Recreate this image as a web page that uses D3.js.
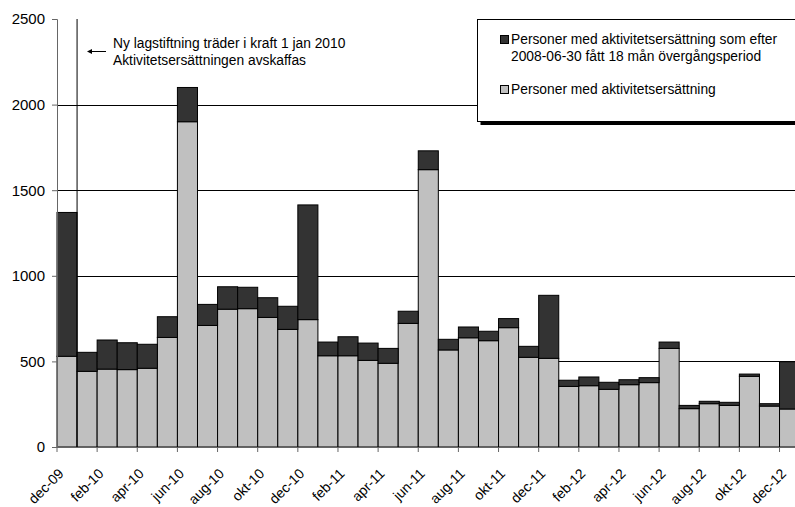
<!DOCTYPE html>
<html>
<head>
<meta charset="utf-8">
<script src="https://cdn.jsdelivr.net/npm/d3@7"></script>
<style>
  html, body { margin: 0; padding: 0; background: #fff; }
  svg { display: block; font-family: "Liberation Sans", Arial, sans-serif; }
</style>
</head>
<body>
<svg id="chart" width="795" height="507"></svg>
<script>
// Månader dec-09 – dec-12
const months = [
  "dec-09","jan-10","feb-10","mar-10","apr-10","maj-10","jun-10","jul-10","aug-10","sep-10","okt-10","nov-10",
  "dec-10","jan-11","feb-11","mar-11","apr-11","maj-11","jun-11","jul-11","aug-11","sep-11","okt-11","nov-11",
  "dec-11","jan-12","feb-12","mar-12","apr-12","maj-12","jun-12","jul-12","aug-12","sep-12","okt-12","nov-12","dec-12"
];

// Personer med aktivitetsersättning
const aktivitet = [
  530, 442, 455, 452, 460, 640, 1900, 710, 805, 808, 757, 687,
  744, 533, 533, 506, 489, 722, 1620, 567, 638, 621, 697, 524,
  518, 354, 358, 337, 364, 376, 576, 224, 253, 243, 413, 239, 222
];

// Personer som efter 2008-06-30 fått 18 mån övergångsperiod
const overgang = [
  840, 111, 170, 157, 140, 121, 200, 123, 131, 125, 115, 135,
  670, 80, 111, 101, 87, 71, 110, 62, 63, 55, 53, 64,
  368, 36, 51, 41, 29, 29, 37, 19, 14, 18, 13, 14, 276
];

const yTicks = [0, 500, 1000, 1500, 2000, 2500];
const xTickLabels = months.filter((d, i) => i % 2 === 0);

const seriesNames = [
  "Personer med aktivitetsersättning som efter|2008-06-30 fått 18 mån övergångsperiod",
  "Personer med aktivitetsersättning"
];
const colors = { aktivitet: "#c0c0c0", overgang: "#333333" };

const svg = d3.select("#chart");

const plotLeft = 57, plotTop = 19, plotBottom = 447;
const step = 20.07;
const x = d3.scaleBand().domain(months).range([plotLeft, plotLeft + step * months.length]).padding(0);
const y = d3.scaleLinear().domain([0, 2500]).range([plotBottom, plotTop]);

const rows = months.map((m, i) => ({ month: m, aktivitet: aktivitet[i], overgang: overgang[i] }));
const stacked = d3.stack().keys(["aktivitet", "overgang"])(rows);

// Stödlinjer
svg.append("g")
  .selectAll("line")
  .data(yTicks.filter(t => t > 0 && t < 2500))
  .join("line")
  .attr("x1", plotLeft).attr("x2", 800)
  .attr("y1", d => Math.round(y(d)) + 0.5).attr("y2", d => Math.round(y(d)) + 0.5)
  .attr("stroke", "#000").attr("stroke-width", 1);

// Staplar
svg.append("g")
  .selectAll("g")
  .data(stacked)
  .join("g")
  .attr("fill", d => colors[d.key])
  .selectAll("rect")
  .data(d => d)
  .join("rect")
  .attr("x", d => x(d.data.month))
  .attr("width", x.bandwidth())
  .attr("y", d => y(d[1]))
  .attr("height", d => y(d[0]) - y(d[1]))
  .attr("stroke", "#000")
  .attr("stroke-width", 1);

// Lodlinje vid lagändringen
const lawX = x("jan-10");
svg.append("line")
  .attr("x1", lawX).attr("x2", lawX)
  .attr("y1", plotTop).attr("y2", plotBottom)
  .attr("stroke", "#000").attr("stroke-width", 1);

// Y-axel
const yAxis = d3.axisLeft(y).tickValues(yTicks).tickSize(5).tickPadding(7).tickFormat(d3.format("d"));
const gy = svg.append("g").attr("transform", `translate(${plotLeft},0)`).call(yAxis);
gy.select(".domain").attr("stroke", "#666");
gy.selectAll(".tick line").attr("stroke", "#666");
gy.selectAll("text").attr("font-size", 15).attr("fill", "#000")
  .attr("font-family", "'Liberation Sans', Arial, sans-serif");

// X-axel
const gx = svg.append("g").attr("transform", `translate(0,${plotBottom})`);
gx.append("line").attr("x1", plotLeft).attr("x2", 800).attr("y1", 0.5).attr("y2", 0.5).attr("stroke", "#666");
gx.selectAll("line.tick")
  .data(xTickLabels)
  .join("line")
  .attr("class", "tick")
  .attr("x1", d => x(d)).attr("x2", d => x(d))
  .attr("y1", 0).attr("y2", 5)
  .attr("stroke", "#666");
gx.selectAll("text")
  .data(xTickLabels)
  .join("text")
  .attr("transform", d => `translate(${x(d) + 4},${24}) rotate(-45)`)
  .attr("text-anchor", "end")
  .attr("dy", "0.35em")
  .attr("font-size", 14)
  .attr("fill", "#000")
  .text(d => d);

// Annotering
svg.append("line")
  .attr("x1", 89).attr("x2", 106).attr("y1", 51.5).attr("y2", 51.5)
  .attr("stroke", "#000").attr("stroke-width", 1);
svg.append("path")
  .attr("d", "M87,51.5 L92,49 L92,54 Z")
  .attr("fill", "#000");
const note = svg.append("text").attr("font-size", 13.8).attr("fill", "#000");
note.append("tspan").attr("x", 113).attr("y", 48).text("Ny lagstiftning träder i kraft 1 jan 2010");
note.append("tspan").attr("x", 113).attr("y", 65).text("Aktivitetsersättningen avskaffas");

// Teckenförklaring
const lg = svg.append("g");
lg.append("rect")
  .attr("x", 480.5).attr("y", 22).attr("width", 330).attr("height", 103)
  .attr("fill", "#000");
lg.append("rect")
  .attr("x", 477.5).attr("y", 19.5).attr("width", 330).attr("height", 102)
  .attr("fill", "#fff").attr("stroke", "#000").attr("stroke-width", 1);

const legendItems = [
  { color: colors.overgang, label: seriesNames[0], y: 35 },
  { color: colors.aktivitet, label: seriesNames[1], y: 85 }
];
const li = lg.selectAll("g.item").data(legendItems).join("g").attr("class", "item");
li.append("rect")
  .attr("x", 500.5).attr("y", d => d.y + 0.5).attr("width", 8).attr("height", 8)
  .attr("fill", d => d.color).attr("stroke", "#000").attr("stroke-width", 1);
li.append("text")
  .attr("font-size", 13.8).attr("fill", "#000")
  .each(function (d) {
    const t = d3.select(this);
    d.label.split("|").forEach((line, k) => {
      t.append("tspan").attr("x", 511).attr("y", d.y + 9 + k * 17).text(line);
    });
  });
</script>
</body>
</html>
